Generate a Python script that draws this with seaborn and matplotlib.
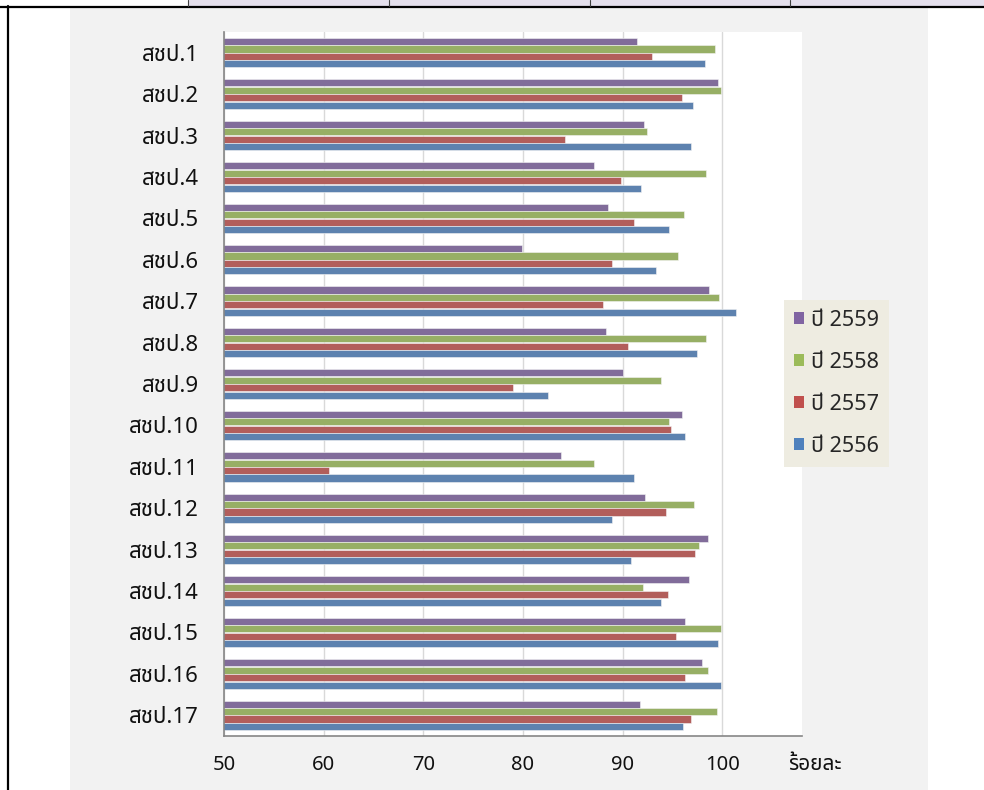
import matplotlib
matplotlib.use("Agg")
import numpy as np
import pandas as pd
import matplotlib.pyplot as plt
import seaborn as sns
from matplotlib import font_manager
from matplotlib.ft2font import FT2Font
from matplotlib.patches import Rectangle, Patch
from matplotlib.lines import Line2D

# data (percent)
regions = ["สชป.1", "สชป.2", "สชป.3", "สชป.4", "สชป.5", "สชป.6", "สชป.7", "สชป.8", "สชป.9",
           "สชป.10", "สชป.11", "สชป.12", "สชป.13", "สชป.14", "สชป.15", "สชป.16", "สชป.17"]
y2559 = [91.4, 99.6, 92.1, 87.1, 88.5, 79.9, 98.7, 88.3, 90.0, 96.0, 83.8, 92.2, 98.6, 96.7, 96.3, 98.0, 91.7]
y2558 = [99.3, 99.9, 92.4, 98.4, 96.2, 95.6, 99.7, 98.4, 93.9, 94.7, 87.1, 97.2, 97.7, 92.0, 99.9, 98.6, 99.5]
y2557 = [92.9, 96.0, 84.2, 89.8, 91.1, 88.9, 88.0, 90.5, 79.0, 94.9, 60.5, 94.4, 97.3, 94.6, 95.4, 96.3, 96.9]
y2556 = [98.3, 97.1, 96.9, 91.8, 94.7, 93.3, 101.4, 97.5, 82.5, 96.3, 91.1, 88.9, 90.8, 93.9, 99.6, 99.9, 96.1]
years = ["ปี 2559", "ปี 2558", "ปี 2557", "ปี 2556"]
colors = ["#8064A2", "#9BBB59", "#C0504D", "#4F81BD"]
xticks = [50, 60, 70, 80, 90, 100]
xticklabels = ["50", "60", "70", "80", "90", "100"]
unit_label = "ร้อยละ"

df = pd.DataFrame({"region": regions, years[0]: y2559, years[1]: y2558,
                   years[2]: y2557, years[3]: y2556})
long_df = df.melt(id_vars="region", var_name="year", value_name="value")


def thai_font():
    found = []
    for f in font_manager.fontManager.ttflist:
        try:
            cmap = FT2Font(f.fname).get_charmap()
        except Exception:
            continue
        if 0x0E2A in cmap and 0x0E1B in cmap:
            found.append(f.name)
    for pref in ["Tahoma", "Noto Sans Thai", "Noto Sans Thai UI", "Loma", "Garuda",
                 "Sarabun", "TH Sarabun New", "Norasi", "Kinnari", "Waree"]:
        if pref in found:
            return pref
    return found[0] if found else None


sns.set_style("white")
tf = thai_font()
fam = [tf, "DejaVu Sans"] if tf else ["DejaVu Sans"]
plt.rcParams["font.family"] = fam

fig = plt.figure(figsize=(9.84, 7.9), dpi=100, facecolor="white")
W, H = 984, 790

# page decoration: grey panel, table borders
fig.add_artist(Rectangle((70 / W, 0), (928 - 70) / W, 1 - 8 / H, transform=fig.transFigure,
                         facecolor="#f2f2f2", edgecolor="none", zorder=-10))
fig.add_artist(Rectangle((188 / W, 1 - 6 / H), 1 - 188 / W, 6 / H, transform=fig.transFigure,
                         facecolor="#e4dfec", edgecolor="none", zorder=-9))
fig.add_artist(Line2D([0, 1], [1 - 6.5 / H, 1 - 6.5 / H], transform=fig.transFigure,
                      color="black", lw=1.6, zorder=-8))
fig.add_artist(Line2D([8 / W, 8 / W], [0, 1 - 6 / H], transform=fig.transFigure,
                      color="black", lw=1.6, zorder=-8))
for xp in [188, 389, 590, 790]:
    fig.add_artist(Line2D([xp / W, xp / W], [1 - 6 / H, 1], transform=fig.transFigure,
                          color="#404040", lw=0.8, zorder=-8))

ax = fig.add_axes([224 / W, 1 - 736 / H, (802 - 224) / W, (736 - 32) / H])
ax.set_facecolor("white")

sns.barplot(data=long_df, x="value", y="region", hue="year", hue_order=years,
            palette=colors, orient="h", width=0.72, gap=0.05,
            edgecolor="#f4f4f4", linewidth=0.4, legend=False, ax=ax)

ax.set_xlim(50, 108)
ax.set_xticks(xticks)
ax.set_xticklabels(xticklabels)
ax.set_xlabel("")
ax.set_ylabel("")
ax.set_ylim(16.5, -0.5)
ax.xaxis.grid(True, color="#d9d9d9", lw=1)
ax.set_axisbelow(True)

for s in ["top", "right"]:
    ax.spines[s].set_visible(False)
for s in ["left", "bottom"]:
    ax.spines[s].set_color("#868686")
    ax.spines[s].set_linewidth(1.2)

ax.set_yticks(np.arange(-0.5, 17, 1), minor=True)
ax.tick_params(axis="y", which="major", length=0, pad=18, labelsize=16, labelcolor="#111111")
ax.tick_params(axis="y", which="minor", length=5, color="#868686", width=1.2, direction="out")
ax.tick_params(axis="x", which="major", length=6, color="#868686", width=1.2, direction="out",
               pad=8, labelsize=14.5, labelcolor="#111111")

fig.text(815 / W, 1 - 764 / H, unit_label, ha="center", va="center", fontsize=15,
         fontweight="bold", color="#111111")

handles = [Patch(facecolor=c, edgecolor="none") for c in colors]
leg = ax.legend(handles, years, loc="upper left", bbox_to_anchor=(784 / W, 1 - 300 / H),
                bbox_transform=fig.transFigure, frameon=True, fancybox=False,
                fontsize=15.5, handlelength=0.5, handleheight=0.5, handletextpad=0.3,
                labelspacing=0.98, borderpad=0.45, borderaxespad=0)
leg.get_frame().set_facecolor("#eeece1")
leg.get_frame().set_edgecolor("none")
leg.get_frame().set_alpha(1)

fig.savefig("out.png", dpi=100, facecolor="white")
